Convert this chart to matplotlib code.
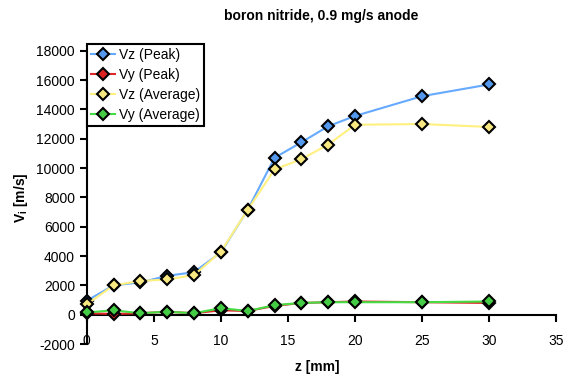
import numpy as np
import matplotlib.pyplot as plt

plt.rcParams['font.family'] = ['Liberation Sans', 'DejaVu Sans']
plt.rcParams['axes.unicode_minus'] = False

# datos
z = [0, 2, 4, 6, 8, 10, 12, 14, 16, 18, 20, 25, 30]
vz_peak = [950, 2000, 2200, 2650, 2900, 4250, 7150, 10700, 11750, 12850, 13550, 14900, 15700]
vy_peak = [100, 50, 100, 200, 100, 300, 250, 600, 800, 850, 900, 850, 800]
vz_avg = [700, 2000, 2300, 2400, 2700, 4300, 7150, 9900, 10600, 11600, 12950, 13000, 12800]
vy_avg = [150, 300, 100, 200, 100, 450, 250, 650, 800, 850, 850, 850, 900]

labels = ['Vz (Peak)', 'Vy (Peak)', 'Vz (Average)', 'Vy (Average)']
line_colors = ['#66aaff', '#e02828', '#fff080', '#44dd44']
marker_colors = ['#5599ee', '#dd2222', '#f8e880', '#44cc44']

fig = plt.figure(figsize=(5.67, 3.77), dpi=100)
ax = fig.add_axes([0.153, 0.0875, 0.828, 0.778])

series = [vz_peak, vy_peak, vz_avg, vy_avg]
for k in range(len(series)):
    ax.plot(z, series[k], color=line_colors[k], lw=1.5, marker='D', ms=6.5,
            mfc=marker_colors[k], mec='black', mew=1.5, label=labels[k],
            zorder=3 + k, clip_on=False)

ax.set_xlim(0, 35)
ax.set_ylim(-2000, 18000)
ax.set_xticks(np.arange(0, 36, 5))
ax.set_yticks(np.arange(-2000, 18001, 2000))

ax.spines['top'].set_visible(False)
ax.spines['right'].set_visible(False)
ax.spines['bottom'].set_position(('data', 0))
ax.spines['left'].set_linewidth(1.5)
ax.spines['bottom'].set_linewidth(1.5)
ax.tick_params(axis='both', direction='out', length=5, width=1.5, labelsize=10)
ax.tick_params(axis='x', pad=9)

ax.set_title('boron nitride, 0.9 mg/s anode', fontsize=10, fontweight='bold', pad=22)
ax.set_xlabel('z [mm]', fontsize=10, fontweight='bold')
ax.xaxis.set_label_coords(0.49, -0.055)
ax.set_ylabel('V$_\\mathregular{i}$ [m/s]', fontsize=10, fontweight='bold')
ax.yaxis.set_label_coords(-0.12, 0.5)

leg = ax.legend(loc='upper left', bbox_to_anchor=(0.153, 0.883),
                bbox_transform=fig.transFigure, borderaxespad=0,
                fancybox=False, framealpha=1, edgecolor='black',
                fontsize=10, handlelength=1.7, handletextpad=0.3,
                labelspacing=0.42, borderpad=0.3)
leg.get_frame().set_linewidth(1.5)
leg.set_zorder(10)

fig.savefig('out.png', dpi=100)
